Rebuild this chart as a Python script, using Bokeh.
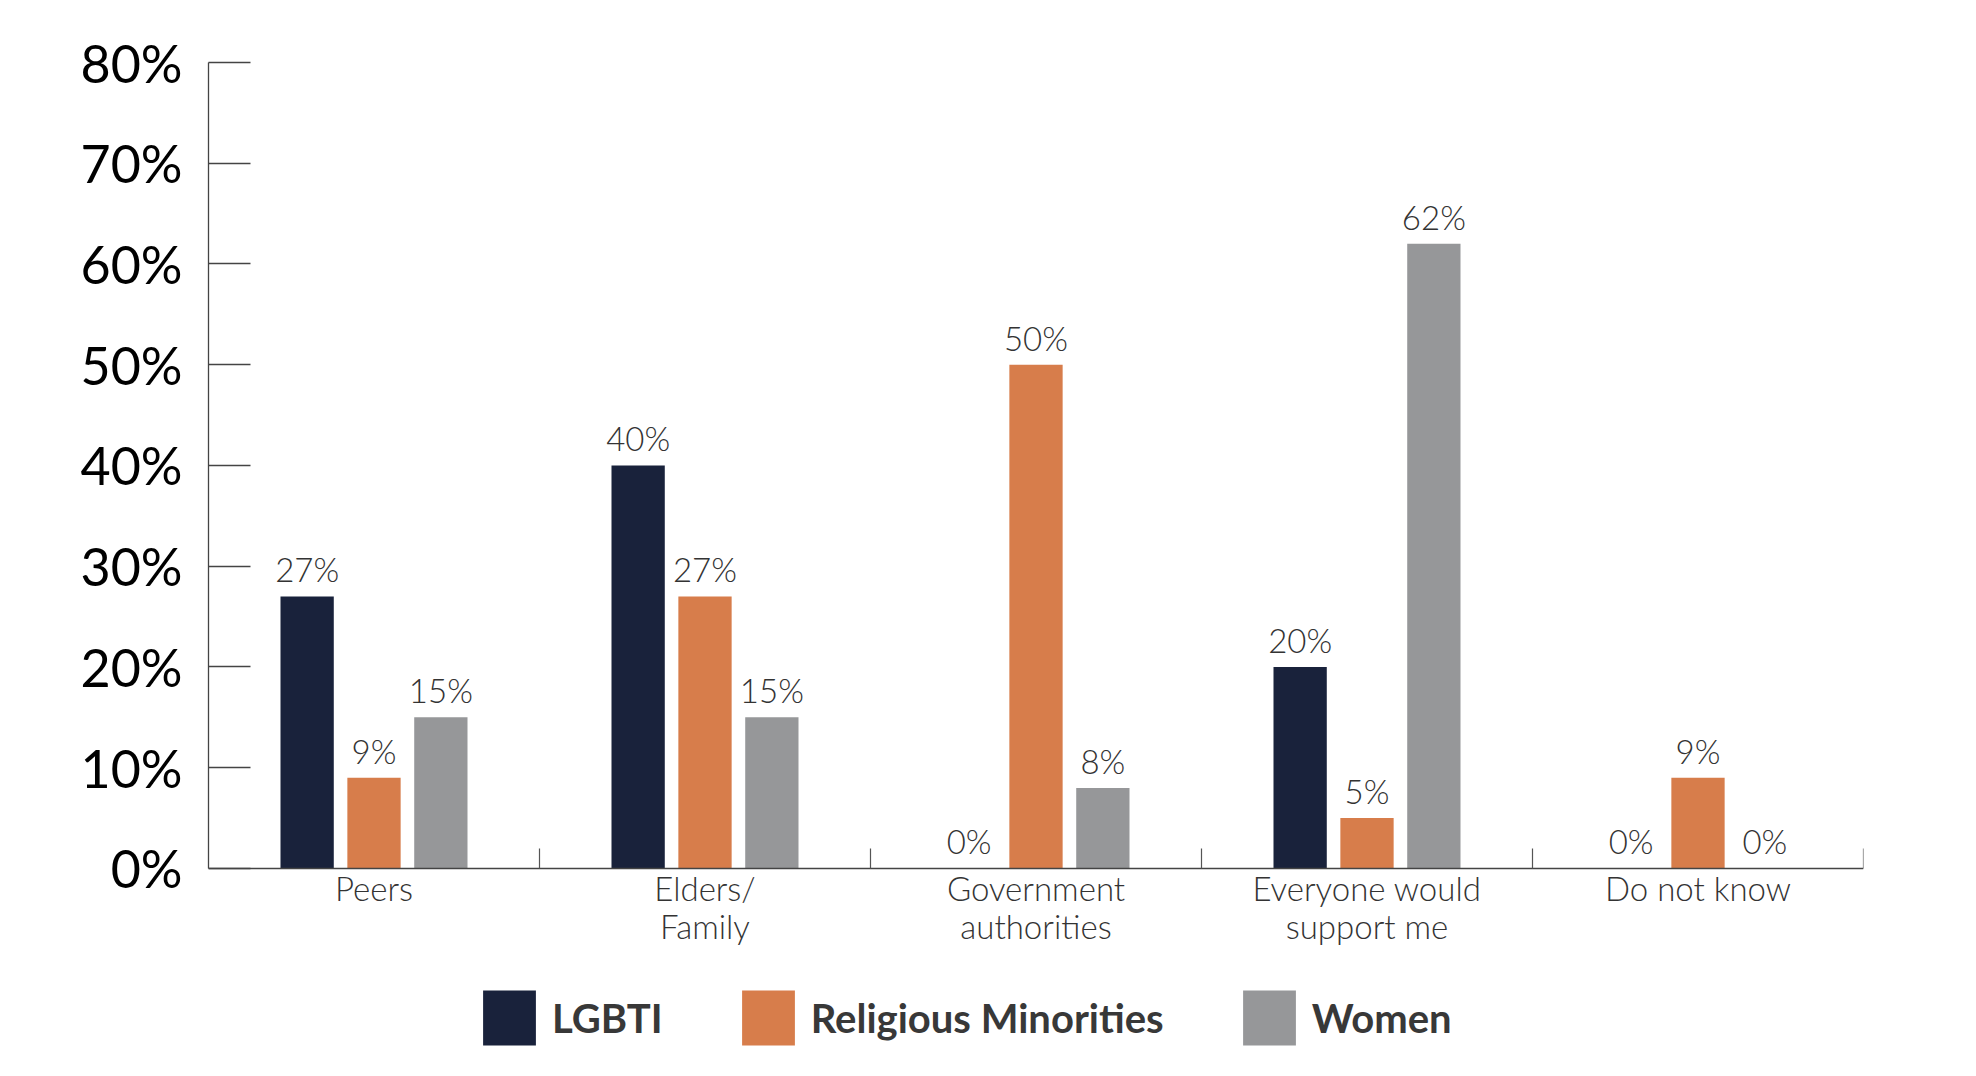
from bokeh.plotting import figure
from bokeh.models import (ColumnDataSource, Range1d, LinearAxis, FixedTicker,
                          PrintfTickFormatter, LabelSet, Legend, LegendItem)
from bokeh.transform import dodge
from bokeh.core.properties import value
from bokeh.embed import file_html
from bokeh.resources import INLINE

# ---- data ----
categories = ["Peers", "Elders/Family", "Government authorities",
              "Everyone would support me", "Do not know"]
tick_labels = ["Peers", "Elders/\nFamily", "Government\nauthorities",
               "Everyone would\nsupport me", "Do not know"]
series_names = ["LGBTI", "Religious Minorities", "Women"]
lgbti = [27, 40, 0, 20, 0]
religious = [9, 27, 50, 5, 9]
women = [15, 15, 8, 62, 0]
y_ticks = [0, 10, 20, 30, 40, 50, 60, 70, 80]

colors = ["#19223b", "#d77d4b", "#969799"]
FONT = "Lato"
LIGHT = "Lato Light, Lato"

x_centers = [i + 0.5 for i in range(len(categories))]
series_values = [lgbti, religious, women]

# the frame reaches the bottom of the canvas so that the legend can sit inside it;
# the category axis is pinned at y = 0
p = figure(width=1960, height=1060, output_backend="svg", toolbar_location=None,
           x_range=Range1d(0, len(categories)), y_range=Range1d(-19.06, 80),
           x_axis_type=None, y_axis_type=None,
           min_border_left=208, min_border_right=97,
           min_border_top=62, min_border_bottom=0)
p.outline_line_color = None
p.xgrid.visible = False
p.ygrid.visible = False
p.background_fill_color = "white"
p.border_fill_color = "white"

# y axis
yaxis = LinearAxis(ticker=FixedTicker(ticks=y_ticks), bounds=(0, 80),
                   formatter=PrintfTickFormatter(format="%d%%"))
yaxis.axis_line_color = "#444444"
yaxis.axis_line_width = 1.3
yaxis.major_tick_line_color = "#444444"
yaxis.major_tick_line_width = 1.3
yaxis.major_tick_in = 42
yaxis.major_tick_out = 0
yaxis.minor_tick_line_color = None
yaxis.major_label_standoff = 26
yaxis.major_label_text_font = FONT
yaxis.major_label_text_font_size = "52px"
yaxis.major_label_text_color = "#000000"
p.add_layout(yaxis, "left")

# x axis
xaxis = LinearAxis(ticker=FixedTicker(ticks=x_centers,
                                      minor_ticks=list(range(1, len(categories) + 1))),
                   fixed_location=0)
xaxis.major_label_overrides = {x: t for x, t in zip(x_centers, tick_labels)}
xaxis.axis_line_color = "#444444"
xaxis.axis_line_width = 1.5
xaxis.major_tick_line_color = None
xaxis.major_tick_in = 0
xaxis.major_tick_out = 0
xaxis.minor_tick_line_color = "#555555"
xaxis.minor_tick_line_width = 1.2
xaxis.minor_tick_in = 20
xaxis.minor_tick_out = 0
xaxis.major_label_standoff = 0
xaxis.major_label_text_font = LIGHT
xaxis.major_label_text_font_size = "33px"
xaxis.major_label_text_color = "#333333"
xaxis.major_label_text_line_height = 0.95
p.add_layout(xaxis, "below")

step = 0.202
width = 0.161
offsets = [-step, 0, step]
renderers = []
for name, vals, col, off in zip(series_names, series_values, colors, offsets):
    src = ColumnDataSource(dict(x=x_centers, top=vals,
                                label=[f"{v}%" for v in vals]))
    r = p.vbar(x=dodge("x", off, range=p.x_range), top="top", width=width,
               bottom=0, source=src, fill_color=col, line_color=None)
    renderers.append((name, r))
    lbl = LabelSet(x=dodge("x", off, range=p.x_range), y="top", text="label",
                   source=src, text_align="center", text_baseline="alphabetic",
                   y_offset=14, text_font=value(LIGHT), text_font_size="33px",
                   text_color="#333333")
    p.add_layout(lbl)

legend = Legend(items=[LegendItem(label=n, renderers=[r]) for n, r in renderers],
                orientation="horizontal", location=(268, 8),
                glyph_width=66, glyph_height=69, label_standoff=10,
                spacing=72, padding=0, margin=0,
                label_text_font=FONT, label_text_font_style="bold",
                label_text_font_size="40px", label_text_color="#383838",
                border_line_color=None, background_fill_alpha=0)
p.add_layout(legend, "center")

open("out.html", "w").write(file_html(p, INLINE))
